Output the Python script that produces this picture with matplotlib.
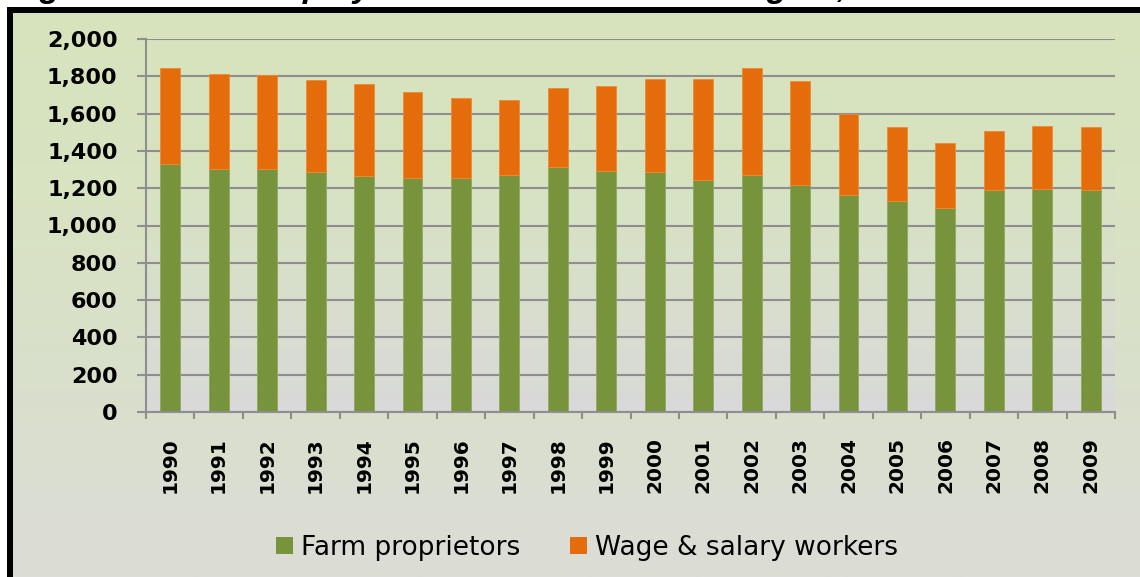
import numpy as np
import matplotlib
matplotlib.use('Agg')
import matplotlib.pyplot as plt
from matplotlib.colors import LinearSegmentedColormap
from matplotlib.patches import Patch
from matplotlib.ticker import FuncFormatter

# data (thousands of workers)
years = ['1990', '1991', '1992', '1993', '1994', '1995', '1996', '1997', '1998', '1999',
         '2000', '2001', '2002', '2003', '2004', '2005', '2006', '2007', '2008', '2009']
proprietors = [1329, 1302, 1302, 1288, 1268, 1254, 1254, 1271, 1314, 1293,
               1288, 1246, 1271, 1218, 1162, 1130, 1095, 1191, 1196, 1191]
wage_workers = [514, 512, 507, 492, 493, 460, 432, 400, 425, 453,
                500, 542, 572, 555, 434, 397, 350, 316, 338, 336]
y_ticks = [0, 200, 400, 600, 800, 1000, 1200, 1400, 1600, 1800, 2000]
series_names = ['Farm proprietors', 'Wage & salary workers']
title = 'Figure 4: Farm Employment in the Northeast Region, 1990-2009'

GREEN = '#77933c'
ORANGE = '#e46c0a'
GRID = '#8e8e8e'

W, H = 1140, 577


def px(x0, y0, x1, y1):
    # pixel box (from top-left) -> figure rect
    return [x0 / W, 1 - y1 / H, (x1 - x0) / W, (y1 - y0) / H]


def vgrad(ax, colors, extent=None):
    # colors listed from bottom to top
    cmap = LinearSegmentedColormap.from_list('g', colors)
    grad = np.linspace(0, 1, 256).reshape(-1, 1)
    kw = dict(cmap=cmap, aspect='auto', origin='lower', zorder=0)
    if extent is not None:
        kw['extent'] = extent
    ax.imshow(grad, **kw)


fig = plt.figure(figsize=(W / 100, H / 100), dpi=100)

# black frame and chart-area background
frame = fig.add_axes(px(7, 7, W, H))
frame.set_facecolor('black')
frame.set_xticks([])
frame.set_yticks([])
for s in frame.spines.values():
    s.set_visible(False)

bg = fig.add_axes(px(13, 13, W, H))
vgrad(bg, ['#dcddd6', '#d9dfcc', '#d8e3c2', '#d7e4bd'])
bg.set_axis_off()

# title, cut off by the top edge as in the source
fig.text(10 / W, 1 + 3.5 / H, title, fontsize=24, fontweight='bold', fontstyle='italic',
         family='Liberation Sans', ha='left', va='baseline', zorder=0)

ax = fig.add_axes(px(146, 39, 1115, 412))
n = len(years)
x = np.arange(n)
vgrad(ax, ['#d9d9d9', '#d8dfcc', '#d7e3c0', '#d7e4bd'], extent=(-0.5, n - 0.5, 0, 2000))

ax.bar(x, proprietors, width=0.41, color=GREEN, edgecolor='#8fa860', linewidth=0.6, zorder=2)
ax.bar(x, wage_workers, width=0.41, bottom=proprietors, color=ORANGE,
       edgecolor='#f08a30', linewidth=0.6, zorder=2)

ax.set_xlim(-0.5, n - 0.5)
ax.set_ylim(0, 2000)
ax.set_axisbelow(True)
ax.yaxis.grid(True, color=GRID, linewidth=1.5)

for side in ['top', 'right']:
    ax.spines[side].set_visible(False)
for side in ['left', 'bottom']:
    ax.spines[side].set_color(GRID)
    ax.spines[side].set_linewidth(1.5)

ax.set_yticks(y_ticks)
ax.yaxis.set_major_formatter(FuncFormatter(lambda v, p: '{:,.0f}'.format(v)))
ax.tick_params(axis='y', length=6.5, width=1.5, color=GRID, pad=14)
for lab in ax.get_yticklabels():
    lab.set_fontsize(16)
    lab.set_fontweight('bold')

ax.set_xticks(x)
ax.set_xticklabels(years, rotation=90, fontsize=14.5, fontweight='bold')
ax.tick_params(axis='x', which='major', length=0, pad=18)
ax.set_xticks(np.arange(-0.5, n, 1), minor=True)
ax.tick_params(axis='x', which='minor', length=5, width=1.5, color=GRID)

handles = [Patch(facecolor=GREEN), Patch(facecolor=ORANGE)]
fig.legend(handles, series_names, loc='center', bbox_to_anchor=(587 / W, 1 - 548 / H),
           ncol=2, frameon=False, fontsize=19, handlelength=0.64, handleheight=0.6,
           handletextpad=0.3, columnspacing=1.9)

fig.savefig('out.png', dpi=100)
